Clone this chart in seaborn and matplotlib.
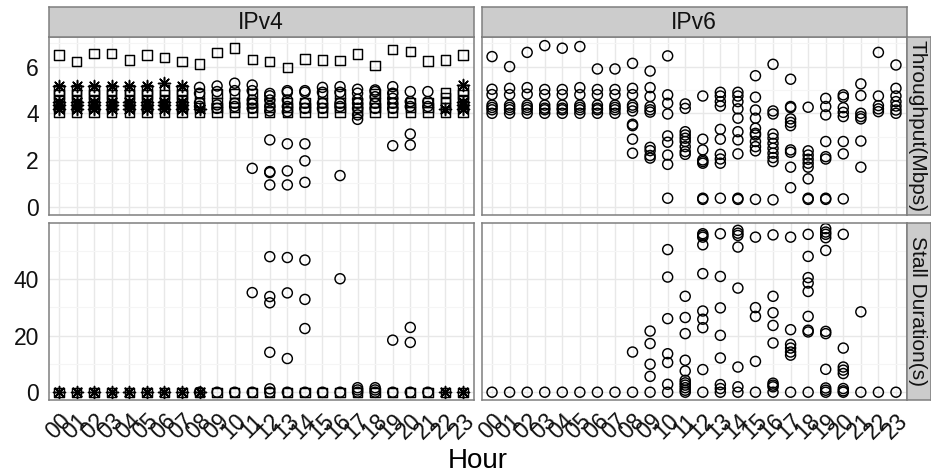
import numpy as np
import pandas as pd
import matplotlib
matplotlib.use("Agg")
import matplotlib.pyplot as plt
import seaborn as sns

# ---------------- data ----------------
HOUR_LABELS = ["00", "01", "02", "03", "04", "05", "06", "07", "08", "09", "10", "11",
               "12", "13", "14", "15", "16", "17", "18", "19", "20", "21", "22", "23"]
PROTOCOLS = ["IPv4", "IPv6"]
METRICS = ["Throughput(Mbps)", "Stall Duration(s)"]

# IPv4 throughput, square markers (one list per hour)
V4_TPUT_SQUARE = [
    [6.50, 5.00, 4.80, 4.55, 4.30, 4.05], [6.21, 5.00, 4.80, 4.55, 4.30, 4.05],
    [6.57, 5.00, 4.80, 4.55, 4.30, 4.05], [6.57, 5.00, 4.80, 4.55, 4.30, 4.05],
    [6.29, 5.00, 4.80, 4.55, 4.30, 4.05], [6.50, 5.00, 4.80, 4.55, 4.30, 4.05],
    [6.40, 5.00, 4.80, 4.55, 4.30, 4.05], [6.21, 5.00, 4.80, 4.55, 4.30, 4.05],
    [6.11, 4.85, 4.45, 4.25, 4.05], [6.61, 4.85, 4.45, 4.25, 4.05],
    [6.79, 4.85, 4.45, 4.25, 4.05], [6.31, 4.85, 4.45, 4.25, 4.05],
    [6.21, 4.45, 4.25, 4.05], [5.97, 4.45, 4.25, 4.05],
    [6.33, 4.45, 4.25, 4.05], [6.29, 4.85, 4.45, 4.25, 4.05],
    [6.26, 4.85, 4.45, 4.25, 4.05], [6.54, 4.45, 4.25, 4.05],
    [6.04, 4.85, 4.45, 4.25, 4.05], [6.74, 4.85, 4.45, 4.25, 4.05],
    [6.64, 4.45, 4.25, 4.05], [6.24, 4.45, 4.25, 4.05],
    [6.29, 4.90, 4.65, 4.45, 4.25, 4.05], [6.50, 5.00, 4.80, 4.55, 4.30, 4.05],
]
# IPv4 throughput, asterisk markers
V4_TPUT_STAR = [
    [5.15, 4.50, 4.35, 4.20], [5.15, 4.50, 4.35, 4.20], [5.18, 4.50, 4.35, 4.20],
    [5.15, 4.50, 4.35, 4.20], [5.15, 4.50, 4.35, 4.20], [5.15, 4.50, 4.35, 4.20],
    [5.28, 4.50, 4.35, 4.20], [5.15, 4.50, 4.35, 4.20], [4.20],
    [], [], [], [], [], [], [], [], [], [], [], [], [],
    [4.20], [5.20, 4.50, 4.35, 4.20],
]
# IPv4 throughput, circle markers
V4_TPUT_CIRCLE = [
    [], [], [], [], [], [], [], [],
    [5.11, 4.86, 4.45, 4.30],
    [5.17, 4.93, 4.36, 4.21],
    [5.29, 4.97, 4.43, 4.29],
    [5.21, 4.97, 4.57, 4.40, 4.21, 1.64],
    [4.85, 4.75, 4.57, 4.30, 4.10, 2.86, 1.50, 1.46, 0.93],
    [4.97, 4.90, 4.57, 4.29, 4.07, 2.69, 1.53, 0.93],
    [4.97, 4.90, 4.43, 4.21, 2.69, 1.96, 1.04],
    [5.11, 4.90, 4.43, 4.21],
    [5.14, 4.90, 4.43, 4.29, 1.33],
    [5.03, 4.86, 4.60, 4.43, 4.21, 3.93, 3.74],
    [5.00, 4.93, 4.71, 4.43, 4.21],
    [5.14, 4.86, 4.64, 4.43, 4.21, 2.61],
    [4.93, 4.50, 4.29, 3.11, 2.64],
    [4.93, 4.50, 4.29],
    [], [],
]
# IPv4 stall duration
V4_STALL_SQUARE = [[0.0]] * 24
V4_STALL_STAR = [[0.0], [0.0], [0.0], [0.0], [0.0], [0.0], [0.0], [0.0], [0.0],
                 [], [], [], [], [], [], [], [], [], [], [], [], [], [0.0], [0.0]]
V4_STALL_CIRCLE = [
    [], [], [], [], [], [], [], [],
    [0.0], [0.0], [0.0],
    [35.2, 0.0],
    [47.9, 33.8, 31.6, 14.1, 1.2, 0.0],
    [47.6, 35.1, 11.9, 0.0],
    [46.7, 32.8, 22.5, 0.0],
    [0.0],
    [40.1, 0.0],
    [1.6, 0.8, 0.0],
    [1.6, 0.8, 0.0],
    [18.4, 0.0],
    [22.9, 17.6, 0.0],
    [0.0],
    [], [],
]
# IPv6 throughput (circles only)
V6_TPUT_CIRCLE = [
    [6.43, 5.03, 4.80, 4.35, 4.25, 4.15, 4.00],
    [6.00, 5.07, 4.80, 4.35, 4.25, 4.15, 4.00],
    [6.61, 5.10, 4.82, 4.35, 4.25, 4.15, 4.00],
    [6.90, 5.02, 4.80, 4.35, 4.22, 4.15, 4.00],
    [6.79, 5.02, 4.80, 4.35, 4.22, 4.15, 4.00],
    [6.86, 5.10, 4.80, 4.35, 4.25, 4.15, 4.00],
    [5.90, 5.02, 4.80, 4.35, 4.22, 4.15, 4.00],
    [5.90, 5.02, 4.80, 4.35, 4.25, 4.15, 4.00],
    [6.14, 5.07, 4.80, 4.35, 4.25, 4.10, 3.53, 3.47, 2.89, 2.29],
    [5.81, 5.10, 4.72, 4.28, 4.15, 4.05, 2.54, 2.40, 2.19, 2.08],
    [6.46, 4.79, 4.43, 3.97, 3.03, 2.76, 2.21, 1.81, 0.36],
    [4.40, 4.21, 3.21, 3.07, 2.93, 2.79, 2.57, 2.36, 2.24],
    [4.74, 2.89, 2.43, 2.00, 1.93, 1.86, 0.36, 0.31],
    [4.90, 4.74, 4.50, 4.31, 3.31, 2.89, 2.24, 2.04, 1.86, 0.36],
    [4.90, 4.74, 4.50, 4.19, 3.79, 3.21, 2.86, 2.26, 0.36, 0.31],
    [5.61, 4.69, 4.14, 3.79, 3.36, 3.14, 3.07, 2.79, 2.57, 2.39, 0.31],
    [6.10, 4.10, 3.97, 3.11, 2.93, 2.71, 2.50, 2.29, 2.10, 1.93, 0.29],
    [5.46, 4.29, 4.24, 3.76, 3.61, 3.47, 2.43, 2.33, 1.69, 0.81],
    [4.26, 2.39, 2.21, 2.03, 1.86, 1.69, 1.19, 0.36, 0.31],
    [4.64, 4.29, 3.93, 2.79, 2.14, 2.04, 0.36, 0.31],
    [4.79, 4.69, 4.24, 4.04, 3.86, 2.79, 2.26, 0.33],
    [5.26, 4.76, 4.00, 3.86, 3.76, 2.81, 1.69],
    [6.61, 4.74, 4.33, 4.19, 4.07],
    [6.07, 5.07, 4.74, 4.50, 4.31, 4.14, 4.00],
]
# IPv6 stall duration (circles only)
V6_STALL_CIRCLE = [
    [0.0], [0.0], [0.0], [0.0], [0.0], [0.0], [0.0], [0.0],
    [14.2, 0.0],
    [21.6, 17.2, 9.9, 5.6, 0.0],
    [50.4, 40.7, 26.0, 13.6, 10.5, 2.8, 0.0],
    [33.9, 26.4, 20.7, 11.3, 7.5, 4.2, 3.3, 2.5, 1.6, 0.7, 0.0],
    [56.0, 55.4, 54.8, 52.1, 41.9, 28.7, 25.8, 22.8, 8.0, 0.0],
    [56.0, 40.9, 29.8, 20.1, 12.1, 2.7, 1.3, 0.0],
    [57.2, 56.2, 55.4, 51.3, 36.8, 8.9, 1.9, 0.0],
    [54.8, 29.9, 26.8, 10.9, 0.0],
    [55.6, 33.9, 28.1, 23.6, 17.4, 3.2, 2.5, 1.9, 0.0],
    [54.8, 22.1, 16.9, 15.6, 14.2, 13.1, 0.0],
    [55.8, 48.0, 40.5, 38.6, 35.6, 26.8, 21.9, 21.3, 0.0],
    [57.8, 56.6, 55.8, 54.6, 50.1, 21.5, 20.7, 8.1, 1.5, 0.7, 0.0],
    [55.8, 15.6, 8.9, 7.8, 6.6, 1.3, 0.5, 0.0],
    [28.4, 0.0],
    [0.0], [0.0],
]

# ---------------- build long table ----------------
rows = []
def add(proto, metric, shape, per_hour):
    for h, vals in enumerate(per_hour):
        for v in vals:
            rows.append((proto, metric, shape, h, v))

add("IPv4", METRICS[0], "square", V4_TPUT_SQUARE)
add("IPv4", METRICS[0], "star", V4_TPUT_STAR)
add("IPv4", METRICS[0], "circle", V4_TPUT_CIRCLE)
add("IPv4", METRICS[1], "square", V4_STALL_SQUARE)
add("IPv4", METRICS[1], "star", V4_STALL_STAR)
add("IPv4", METRICS[1], "circle", V4_STALL_CIRCLE)
add("IPv6", METRICS[0], "circle", V6_TPUT_CIRCLE)
add("IPv6", METRICS[1], "circle", V6_STALL_CIRCLE)
df = pd.DataFrame(rows, columns=["proto", "metric", "shape", "hour", "value"])

# ---------------- style ----------------
sns.set_style("white")
plt.rcParams["font.family"] = ["Liberation Sans", "DejaVu Sans"]

W, H = 931, 475
fig = plt.figure(figsize=(W / 100, H / 100), dpi=100)

def fx(px):
    return px / W

PANEL_X = [(48.5, 473.5), (481.5, 906.5)]
PANEL_Y = [(37.0, 215.0), (223.0, 400.0)]
YLIMS = [(-0.36, 7.27), (-2.75, 59.8)]
YMAJOR = [[0, 2, 4, 6], [0, 20, 40]]
YMINOR = [[1, 3, 5, 7], [10, 30, 50]]
BORDER = "#7f7f7f"
STRIP = "#cccccc"
TXT = "#111111"

SHAPE_STYLE = {
    "square": dict(marker="s", s=46, facecolor="none", edgecolor="black", linewidth=1.05),
    "circle": dict(marker="o", s=52, facecolor="none", edgecolor="black", linewidth=1.05),
    "star": dict(marker=(8, 2, 0), s=75, facecolor="black", edgecolor="black", linewidth=1.1),
}

import warnings
warnings.filterwarnings("ignore")

for r, metric in enumerate(METRICS):
    for c, proto in enumerate(PROTOCOLS):
        x0, x1 = PANEL_X[c]
        y0, y1 = PANEL_Y[r]
        ax = fig.add_axes([fx(x0), 1 - y1 / H, fx(x1 - x0), (y1 - y0) / H])
        ax.set_facecolor("white")
        ax.set_axisbelow(True)
        sub = df[(df.proto == proto) & (df.metric == metric)]
        for shape in ["square", "star", "circle"]:
            d = sub[sub["shape"] == shape]
            if len(d):
                sns.scatterplot(data=d, x="hour", y="value", ax=ax, legend=False,
                                **SHAPE_STYLE[shape])
        ax.set_xlim(-0.6, 23.6)
        ax.set_ylim(*YLIMS[r])
        ax.set_xticks(range(24))
        ax.set_yticks(YMAJOR[r])
        ax.set_yticks(YMINOR[r], minor=True)
        ax.grid(which="major", color="#e8e8e8", linewidth=1.0)
        ax.grid(which="minor", axis="y", color="#f5f5f5", linewidth=0.8)
        ax.tick_params(which="minor", length=0)
        ax.tick_params(which="major", length=4.5, width=1.0, color="#222222",
                       labelsize=16.5, labelcolor=TXT, pad=2.5)
        ax.set_xlabel("")
        ax.set_ylabel("")
        for sp in ax.spines.values():
            sp.set_color(BORDER)
            sp.set_linewidth(1.1)
        if c == 0:
            ax.set_yticklabels([str(v) for v in YMAJOR[r]])
        else:
            ax.tick_params(axis="y", left=False, labelleft=False)
        if r == 1:
            ax.set_xticklabels(HOUR_LABELS, rotation=45, ha="right", va="top",
                               rotation_mode="anchor")
        else:
            ax.tick_params(axis="x", bottom=False, labelbottom=False)

        # top strips
        if r == 0:
            sax = fig.add_axes([fx(x0), 1 - y0 / H, fx(x1 - x0), 30 / H])
            sax.set_facecolor(STRIP)
            sax.set_xticks([]); sax.set_yticks([])
            for sp in sax.spines.values():
                sp.set_color(BORDER); sp.set_linewidth(1.1)
            sax.text(0.5, 0.48, proto, ha="center", va="center", fontsize=16.5,
                     color=TXT, transform=sax.transAxes)
        # right strips
        if c == 1:
            sax = fig.add_axes([fx(x1), 1 - y1 / H, fx(24), (y1 - y0) / H])
            sax.set_facecolor(STRIP)
            sax.set_xticks([]); sax.set_yticks([])
            for sp in sax.spines.values():
                sp.set_color(BORDER); sp.set_linewidth(1.1)
            sax.text(0.45, 0.5, metric, ha="center", va="center", fontsize=15,
                     color=TXT, rotation=-90, transform=sax.transAxes)

fig.text(fx(478), 1 - 461 / H, "Hour", ha="center", va="center", fontsize=20, color="black")

fig.savefig("out.png", dpi=100, facecolor="white")
